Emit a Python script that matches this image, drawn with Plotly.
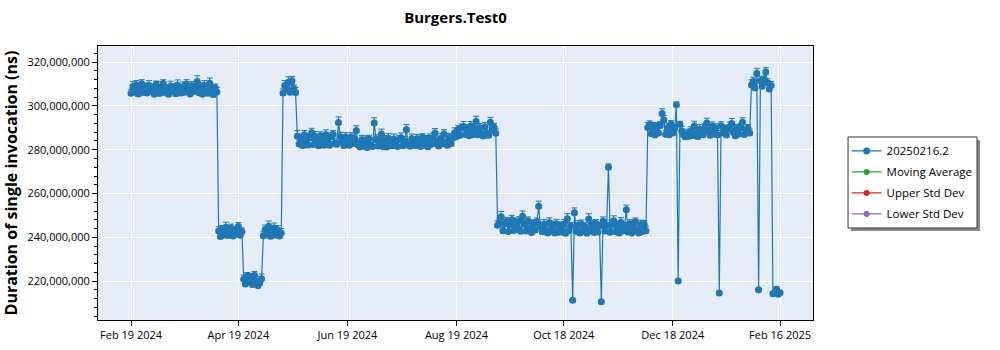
import pandas as pd
import plotly.graph_objects as go

# ---------------- data ----------------
start_date = "2024-02-19"
end_date = "2025-02-16"

# duration per day, in millions of ns
values_m = [
    305.8, 308.9, 306.4, 309.6, 305.5, 307.8, 310.1, 306.2, 308.4, 305.9,
    309.3, 306.7, 308.1, 305.4, 309.8, 307.0, 305.7, 308.6, 310.3, 306.1,
    307.5, 305.3, 309.0, 306.8, 308.2, 305.6, 309.5, 307.3, 305.9, 308.8,
    306.3, 310.0, 307.4, 305.5, 309.2, 306.6, 308.0, 311.2, 306.0, 308.7,
    305.4, 309.4, 307.1, 305.8, 310.4, 307.6, 305.2, 308.3, 306.4, 242.9,
    240.4, 243.8, 241.2, 244.6, 240.8, 242.3, 244.1, 240.6, 243.3, 241.5,
    244.9, 240.9, 242.6, 220.8, 218.7, 222.3, 219.5, 221.6, 218.4, 222.7,
    220.1, 217.9, 219.2, 221.0, 240.7, 243.6, 241.4, 245.0, 240.5, 242.8,
    244.2, 241.0, 243.3, 240.6, 241.9, 305.9, 309.4, 307.2, 310.8, 306.3,
    311.5, 308.0, 306.1, 286.2, 282.6, 285.1, 281.9, 286.8, 283.4, 282.2,
    285.6, 287.8, 282.4, 286.0, 283.7, 281.8, 286.4, 284.2, 282.0, 286.9,
    283.5, 282.1, 285.9, 287.0, 283.0, 282.5, 292.5, 286.1, 283.6, 281.9,
    285.8, 284.5, 282.0, 285.7, 282.8, 284.9, 288.8, 282.3, 281.2, 284.6,
    281.6, 284.2, 281.0, 285.0, 282.1, 281.5, 292.2, 284.8, 281.7, 283.9,
    287.2, 281.4, 284.5, 281.2, 285.3, 282.4, 281.8, 284.9, 282.6, 281.5,
    284.7, 285.5, 281.8, 284.0, 289.2, 282.3, 281.6, 285.1, 282.9, 281.9,
    285.0, 282.6, 281.5, 285.7, 282.0, 284.4, 281.4, 285.2, 282.5, 285.4,
    287.6, 282.8, 281.7, 285.3, 282.6, 287.2, 283.2, 282.1, 285.6, 282.8,
    285.4, 287.8, 285.9, 289.2, 286.6, 290.0, 290.6, 287.0, 289.4, 286.4,
    290.8, 286.8, 289.6, 293.0, 286.9, 290.1, 287.4, 286.3, 290.4, 287.1,
    286.6, 292.6, 289.0, 290.3, 287.5, 245.5, 247.0, 249.4, 243.0, 246.2,
    247.2, 242.6, 245.8, 248.0, 243.1, 246.5, 243.6, 247.3, 242.8, 249.6,
    245.9, 242.9, 247.6, 244.0, 242.2, 246.4, 243.3, 247.0, 254.2, 244.9,
    242.5, 246.0, 243.6, 241.9, 246.7, 242.8, 245.4, 242.0, 246.1, 242.3,
    245.0, 242.4, 245.9, 241.8, 248.5, 243.1, 245.2, 211.2, 251.2, 242.6,
    245.5, 242.0, 246.0, 242.7, 244.8, 241.8, 248.4, 243.0, 245.7, 242.2,
    246.3, 242.4, 245.1, 210.5, 247.3, 242.9, 245.6, 272.0, 242.3, 246.0,
    247.6, 242.6, 245.4, 241.9, 246.9, 243.0, 245.1, 252.6, 242.4, 246.2,
    242.0, 244.8, 247.1, 242.7, 241.9, 245.7, 242.6, 245.8, 243.0, 290.2,
    291.4, 287.3, 290.8, 286.7, 290.5, 287.6, 291.2, 296.5, 293.6, 287.1,
    290.0, 286.9, 291.6, 287.7, 289.8, 300.6, 220.0, 291.5, 288.6, 286.8,
    285.9, 287.3, 286.2, 288.5, 286.5, 290.8, 287.4, 286.0, 289.4, 287.9,
    286.8, 290.2, 292.2, 288.3, 286.6, 290.6, 287.4, 289.9, 286.9, 214.5,
    291.0, 287.6, 289.6, 286.7, 289.2, 290.5, 292.0, 287.9, 286.4, 289.8,
    287.2, 290.1, 292.6, 287.0, 289.3, 289.8, 287.6, 309.6, 311.2, 308.2,
    315.0, 216.0, 311.5, 309.0, 312.0, 315.5, 310.6, 307.8, 309.3, 214.2,
    214.8, 216.3, 214.0, 214.6,
]

# upper error per day, in millions of ns
errors_plus_m = [
    1.8, 2.2, 1.5, 2.0, 1.7, 2.4, 1.9, 1.6, 2.1, 1.8,
    2.3, 1.7, 1.9, 2.0, 1.6, 2.2, 1.8, 2.5, 1.7, 1.9,
    2.0, 1.6, 2.3, 1.8, 2.1, 1.7, 2.4, 1.9, 1.5, 2.2,
    1.8, 2.0, 1.7, 2.3, 1.9, 1.6, 2.1, 2.6, 1.8, 2.0,
    1.7, 2.2, 1.9, 1.6, 2.4, 1.8, 2.0, 1.7, 2.1, 1.9,
    2.2, 1.6, 1.8, 2.3, 1.7, 2.0, 1.9, 2.4, 1.6, 2.1,
    1.8, 2.0, 1.7, 1.9, 2.2, 1.6, 2.0, 1.8, 2.3, 1.7,
    2.1, 1.9, 1.6, 2.2, 1.8, 2.0, 1.7, 2.4, 1.9, 1.6,
    2.3, 1.8, 2.0, 1.7, 2.1, 1.9, 2.2, 1.6, 2.5, 1.8,
    2.0, 1.7, 2.4, 2.6, 1.8, 2.1, 1.6, 2.0, 1.9, 2.2,
    1.7, 2.0, 1.9, 2.3, 1.6, 2.1, 1.8, 2.0, 1.7, 2.2,
    1.9, 1.6, 2.1, 1.8, 2.0, 1.7, 2.5, 1.9, 2.2, 1.6,
    2.0, 1.8, 1.7, 2.1, 1.9, 2.3, 2.2, 1.6, 1.8, 2.0,
    1.7, 2.1, 1.9, 1.6, 2.2, 1.8, 2.4, 2.0, 1.7, 1.9,
    2.2, 1.8, 2.0, 1.7, 2.1, 1.9, 1.6, 2.3, 1.8, 2.0,
    1.9, 2.2, 1.7, 2.0, 2.3, 1.8, 1.6, 2.1, 1.9, 1.7,
    2.0, 1.8, 2.2, 1.6, 1.9, 2.1, 1.7, 2.0, 1.8, 2.3,
    2.1, 1.7, 1.9, 2.2, 1.8, 2.0, 1.6, 2.1, 1.9, 1.8,
    2.0, 2.2, 1.7, 1.9, 2.1, 1.8, 2.3, 1.6, 2.0, 1.9,
    2.1, 1.8, 2.0, 2.3, 1.7, 1.9, 2.2, 1.6, 2.0, 1.8,
    2.1, 2.2, 1.9, 1.7, 2.0, 2.0, 1.8, 2.4, 1.7, 2.1,
    1.9, 2.2, 1.6, 2.0, 1.8, 2.3, 1.7, 2.1, 1.9, 2.4,
    1.8, 2.0, 1.7, 2.2, 1.9, 1.6, 2.1, 1.8, 2.3, 2.0,
    1.7, 2.1, 1.9, 1.6, 2.2, 1.8, 2.0, 1.7, 2.1, 1.9,
    2.0, 1.8, 2.2, 1.7, 2.3, 1.9, 1.6, 0.6, 2.2, 1.8,
    2.1, 1.7, 1.9, 2.0, 1.8, 2.2, 2.4, 1.6, 2.0, 1.9,
    1.8, 2.1, 1.7, 0.6, 2.0, 1.9, 2.2, 1.5, 1.8, 2.0,
    2.2, 1.7, 2.0, 1.8, 2.1, 1.9, 1.6, 2.1, 2.0, 1.8,
    1.9, 2.2, 1.7, 2.0, 1.8, 2.1, 1.6, 1.9, 2.0, 2.2,
    1.8, 2.0, 1.7, 2.3, 1.9, 2.1, 1.6, 2.2, 2.0, 1.8,
    2.1, 1.9, 1.7, 2.0, 1.8, 1.2, 0.6, 1.5, 2.0, 1.9,
    1.7, 2.1, 1.8, 2.0, 1.6, 2.2, 1.9, 1.7, 2.1, 1.8,
    2.0, 1.7, 2.2, 1.9, 1.8, 2.1, 1.6, 2.0, 1.9, 0.6,
    1.8, 2.1, 1.7, 2.0, 1.9, 2.2, 2.3, 1.8, 2.0, 1.7,
    2.1, 1.9, 2.0, 1.8, 2.2, 1.7, 1.9, 2.3, 2.0, 1.8,
    2.2, 0.6, 1.9, 2.1, 1.7, 2.0, 1.8, 2.2, 1.9, 0.8,
    0.9, 1.0, 0.7, 0.8,
]

# lower error per day, in millions of ns
errors_minus_m = [
    0.8, 1.0, 0.7, 0.9, 1.1, 0.8, 0.6, 1.0, 0.9, 0.7,
    1.0, 0.8, 0.9, 0.7, 1.1, 0.9, 0.8, 1.0, 0.6, 0.9,
    0.7, 1.0, 0.8, 0.9, 0.7, 1.1, 0.8, 0.9, 1.0, 0.7,
    0.9, 0.8, 1.0, 0.7, 0.9, 0.8, 1.1, 0.7, 0.9, 1.0,
    0.8, 0.9, 0.7, 1.0, 0.8, 0.9, 1.1, 0.8, 0.7, 0.9,
    1.0, 0.8, 0.9, 0.7, 1.0, 0.8, 0.9, 1.1, 0.7, 0.9,
    0.8, 1.0, 0.7, 0.9, 0.8, 1.0, 0.7, 0.9, 1.1, 0.8,
    0.9, 0.7, 1.0, 0.8, 0.9, 1.1, 0.8, 0.7, 1.0, 0.9,
    0.8, 1.0, 0.7, 0.9, 0.8, 1.0, 0.9, 0.7, 1.1, 0.8,
    0.9, 0.8, 1.0, 0.7, 0.9, 0.8, 1.0, 0.9, 0.7, 1.1,
    0.8, 0.9, 0.7, 1.0, 0.8, 1.1, 0.9, 0.8, 0.7, 1.0,
    0.9, 0.7, 1.0, 0.8, 0.9, 1.1, 0.8, 0.9, 0.7, 1.0,
    0.8, 1.0, 0.9, 0.7, 1.1, 0.8, 0.9, 1.0, 0.7, 0.8,
    1.0, 0.8, 0.7, 0.9, 1.0, 0.8, 0.9, 0.7, 1.1, 0.9,
    0.8, 1.0, 0.9, 0.7, 0.8, 1.0, 0.9, 1.1, 0.7, 0.8,
    0.9, 0.7, 1.0, 0.8, 0.9, 1.1, 0.8, 0.7, 1.0, 0.9,
    0.8, 1.0, 0.7, 0.9, 1.1, 0.8, 0.9, 0.7, 1.0, 0.8,
    0.9, 0.8, 1.0, 0.7, 0.9, 0.8, 1.1, 0.9, 0.7, 1.0,
    0.8, 0.9, 0.7, 1.0, 0.8, 0.9, 1.1, 0.7, 0.9, 0.8,
    1.0, 0.8, 0.9, 0.7, 1.0, 0.8, 0.9, 1.1, 0.7, 0.9,
    0.8, 1.0, 0.7, 0.9, 0.8, 1.0, 0.9, 0.7, 1.1, 0.8,
    0.9, 0.7, 1.0, 0.8, 0.9, 1.1, 0.8, 0.7, 1.0, 0.9,
    0.8, 1.0, 0.9, 0.7, 0.8, 1.1, 0.9, 0.8, 1.0, 0.7,
    0.9, 0.8, 1.0, 0.7, 0.9, 0.8, 1.1, 0.9, 0.7, 1.0,
    0.8, 0.9, 0.7, 1.0, 0.8, 0.9, 1.1, 0.5, 0.9, 0.8,
    1.0, 0.8, 0.9, 0.7, 1.0, 0.8, 0.9, 1.1, 0.7, 0.9,
    0.8, 1.0, 0.7, 0.5, 0.8, 1.0, 0.9, 0.7, 1.1, 0.8,
    0.9, 0.7, 1.0, 0.8, 0.9, 1.1, 0.8, 0.7, 1.0, 0.9,
    0.8, 1.0, 0.9, 0.7, 0.8, 1.1, 0.9, 0.8, 1.0, 0.7,
    0.9, 0.8, 1.0, 0.7, 0.9, 0.8, 1.1, 0.9, 0.7, 1.0,
    0.8, 0.9, 0.7, 1.0, 0.8, 0.9, 0.5, 0.7, 0.9, 0.8,
    1.0, 0.8, 0.9, 0.7, 1.0, 0.8, 0.9, 1.1, 0.7, 0.9,
    0.8, 1.0, 0.7, 0.9, 0.8, 1.0, 0.9, 0.7, 1.1, 0.5,
    0.9, 0.7, 1.0, 0.8, 0.9, 1.1, 0.8, 0.7, 1.0, 0.9,
    0.8, 1.0, 0.9, 0.7, 0.8, 1.1, 0.9, 0.8, 1.0, 0.7,
    0.9, 0.5, 1.0, 0.7, 0.9, 0.8, 1.1, 0.9, 0.7, 0.5,
    0.5, 0.6, 0.5, 0.5,
]

tick_dates = ["2024-02-19", "2024-04-19", "2024-06-19", "2024-08-19",
              "2024-10-18", "2024-12-18", "2025-02-16"]
tick_labels = ["Feb 19 2024", "Apr 19 2024", "Jun 19 2024", "Aug 19 2024",
               "Oct 18 2024", "Dec 18 2024", "Feb 16 2025"]
y_tick_values = [220e6, 240e6, 260e6, 280e6, 300e6, 320e6]

series_name = "20250216.2"
extra_series = ["Moving Average", "Upper Std Dev", "Lower Std Dev"]
extra_colors = ["#2ca02c", "#d62728", "#9467bd"]

# ---------------- figure ----------------
dates = pd.date_range(start_date, end_date, freq="D")
assert len(dates) == len(values_m) == len(errors_plus_m) == len(errors_minus_m)
y = [v * 1e6 for v in values_m]
err_plus = [e * 1e6 for e in errors_plus_m]
err_minus = [e * 1e6 for e in errors_minus_m]

BLUE = "#1f77b4"
FONT = "Open Sans"

fig = go.Figure()
fig.add_trace(go.Scatter(
    x=dates, y=y, name=series_name, mode="lines+markers", legendgroup="g0",
    line=dict(color=BLUE, width=1.2),
    marker=dict(color=BLUE, size=7),
    error_y=dict(type="data", symmetric=False, array=err_plus, arrayminus=err_minus,
                 color=BLUE, thickness=1, width=3),
))
for i, (nm, col) in enumerate(zip(extra_series, extra_colors)):
    fig.add_trace(go.Scatter(
        x=[None], y=[None], name=nm, mode="lines+markers", legendgroup=f"g{i+1}",
        line=dict(color=col, width=1.2), marker=dict(color=col, size=6),
    ))

fig.update_layout(
    template="none",
    width=1000, height=350,
    margin=dict(l=98, r=187, t=46, b=30, autoexpand=False),
    paper_bgcolor="white",
    plot_bgcolor="#E5ECF6",
    font=dict(family=FONT, size=11, color="black"),
    title=dict(text="<b>Burgers.Test0</b>", x=0.5, xref="paper", xanchor="center",
               y=0.948, yref="container", yanchor="middle",
               font=dict(family=FONT, size=15, color="black")),
    showlegend=True,
    legend=dict(
        x=1.047, xanchor="left", y=0.670, yanchor="top",
        bgcolor="rgba(0,0,0,0)", borderwidth=0,
        font=dict(family=FONT, size=11.5, color="black"),
        itemwidth=30, tracegroupgap=2,
    ),
    shapes=[
        # legend frame shadow
        dict(type="rect", xref="paper", yref="paper",
             x0=1.0531, x1=1.2336, y0=0.6569, y1=0.3248,
             line=dict(width=0), fillcolor="#8a8a8a", layer="above"),
        # legend frame
        dict(type="rect", xref="paper", yref="paper",
             x0=1.0490, x1=1.2294, y0=0.6679, y1=0.3358,
             line=dict(width=1, color="#333333"), fillcolor="white", layer="above"),
    ],
)

fig.update_xaxes(
    type="date",
    range=["2024-01-31 12:00", "2025-03-06 10:00"],
    tickvals=tick_dates, ticktext=tick_labels,
    showgrid=True, gridcolor="white", gridwidth=1,
    showline=True, linecolor="black", linewidth=1, mirror=True,
    ticks="outside", ticklen=5, tickcolor="black",
    zeroline=False,
    tickfont=dict(family=FONT, size=11, color="black"),
)
fig.update_yaxes(
    range=[202.2e6, 327.4e6],
    tickvals=y_tick_values,
    tickformat=",d",
    showgrid=True, gridcolor="white", gridwidth=1,
    showline=True, linecolor="black", linewidth=1, mirror=True,
    ticks="outside", ticklen=5, tickcolor="black",
    minor=dict(dtick=4e6, tick0=0, ticks="outside", ticklen=3, tickcolor="black",
               showgrid=False),
    zeroline=False,
    tickfont=dict(family=FONT, size=11, color="black"),
    title=dict(text="<b>Duration of single invocation (ns)</b>",
               font=dict(family=FONT, size=16, color="black"), standoff=8),
)

fig.write_html("out.html")
